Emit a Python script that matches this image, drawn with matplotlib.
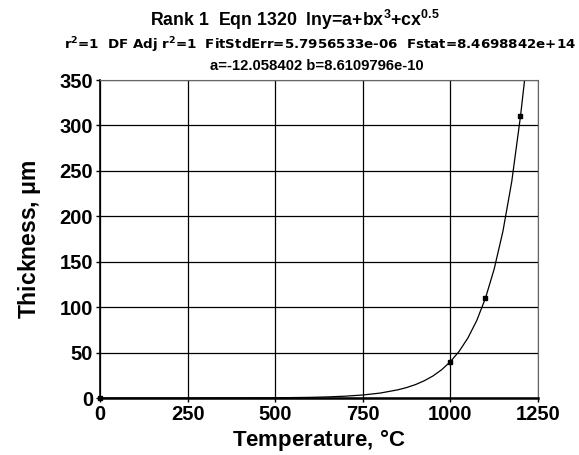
import numpy as np
import matplotlib
matplotlib.use("Agg")
import matplotlib.pyplot as plt

plt.rcParams["font.family"] = ["Liberation Sans", "DejaVu Sans"]

# measured points
temp_pts = [0, 1000, 1100, 1200]
thick_pts = [0.0, 40.0, 110.0, 310.0]

# fitted curve
curve_x = [0, 250, 500, 600, 650, 700, 750, 800, 850, 875, 900, 925, 950, 975,
           1000, 1025, 1050, 1075, 1100, 1125, 1150, 1175, 1200, 1210, 1215]
curve_y = [0.0, 0.01, 0.24, 0.71, 1.2, 2.0, 3.3, 5.45, 9.0, 11.5, 14.7, 18.9, 24.2, 31.1,
           40.0, 51.4, 66.1, 85.1, 109.8, 142.0, 183.7, 238.0, 310.0, 344.0, 362.0]

xticks = [0, 250, 500, 750, 1000, 1250]
yticks = [0, 50, 100, 150, 200, 250, 300, 350]

fig = plt.figure(figsize=(5.79, 4.55), dpi=100)
ax = fig.add_axes([100 / 579, 1 - 398 / 455, 438 / 579, 318 / 455])

ax.plot(curve_x, curve_y, color="black", lw=0.9, clip_on=True)
ax.plot(temp_pts, thick_pts, "s", color="black", ms=2.6, clip_on=False)

ax.set_xlim(0, 1250)
ax.set_ylim(0, 350)
ax.set_xticks(xticks)
ax.set_yticks(yticks)
ax.grid(True, color="black", lw=0.9)
ax.set_axisbelow(True)

for side in ["top", "right"]:
    ax.spines[side].set_color("#666666")
ax.spines["left"].set_linewidth(1.2)
ax.spines["bottom"].set_linewidth(1.8)
ax.tick_params(length=3, width=1, labelsize=14.5, pad=2)
for lab in ax.get_xticklabels() + ax.get_yticklabels():
    lab.set_fontweight("bold")

ax.set_xlabel("Temperature, $\\mathregular{\\degree}$C", fontsize=16, fontweight="bold", labelpad=2)
ax.set_ylabel("Thickness, $\\mathregular{\\mu}$m", fontsize=16.5, fontweight="bold", labelpad=12)

fig.text(0.51, 1 - 20 / 455, "Rank 1  Eqn 1320  lny=a+bx$^{\\mathregular{3}}$+cx$^{\\mathregular{0.5}}$",
         ha="center", va="center", fontsize=12.8, fontweight="bold")
fig.text(0.552, 1 - 45 / 455,
         "r$^{\\mathregular{2}}$=1  DF Adj r$^{\\mathregular{2}}$=1  FitStdErr=5.7956533e-06  Fstat=8.4698842e+14",
         ha="center", va="center", fontsize=9.6, fontweight="bold", family="DejaVu Sans")
fig.text(0.547, 1 - 66 / 455, "a=-12.058402 b=8.6109796e-10",
         ha="center", va="center", fontsize=10.7, fontweight="bold")

fig.savefig("out.png", dpi=100)
